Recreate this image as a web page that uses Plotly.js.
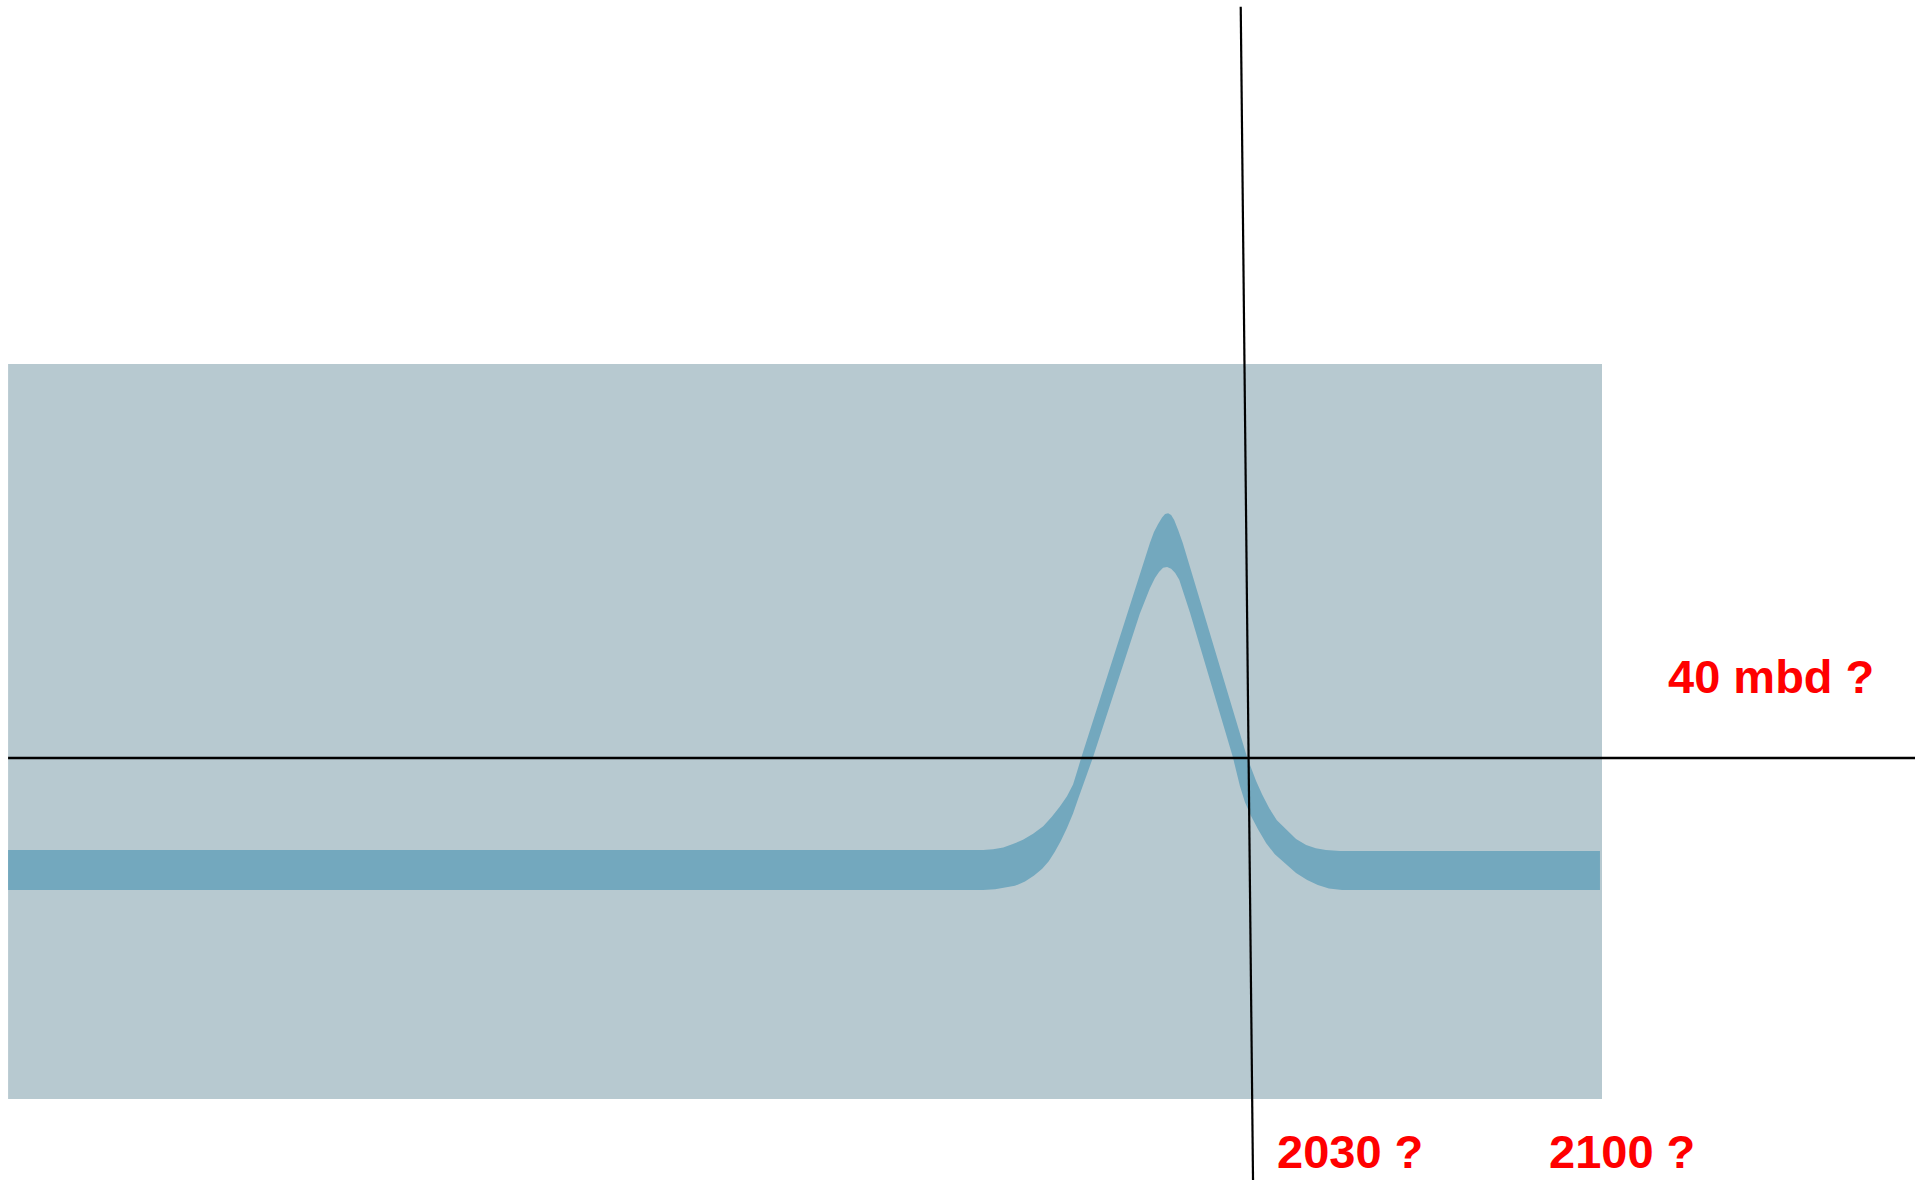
<!DOCTYPE html>
<html>
<head>
<meta charset="utf-8">
<script src="https://cdn.plot.ly/plotly-3.0.1.min.js"></script>
<style>html,body{margin:0;padding:0;background:#fff;}#chart{width:1915px;height:1180px;}</style>
</head>
<body>
<div id="chart"></div>
<script>
// Upper edge of the production band (year, million barrels per day)
const upperYears = [1784.8, 1977.6, 1979.6, 1981.6, 1983.5, 1985.5, 1987.5, 1989.5, 1991.2, 1992.8, 1994.2, 1995.4, 1996.2, 1997.0, 2010.6, 2011.4, 2012.2, 2013.0, 2013.6, 2014.2, 2014.8, 2015.4, 2016.2, 2017.1, 2029.8, 2030.6, 2031.6, 2032.8, 2034.2, 2035.7, 2037.5, 2039.5, 2041.5, 2043.4, 2045.4, 2048.2, 2099.6];
const upperMbd   = [29.2, 29.2, 29.3, 29.5, 29.9, 30.4, 31.1, 32.0, 33.1, 34.3, 35.5, 36.9, 38.4, 40.0, 65.2, 66.5, 67.4, 68.2, 68.6, 68.7, 68.5, 67.9, 66.7, 65.2, 40.1, 38.8, 37.3, 35.7, 34.1, 32.7, 31.6, 30.5, 29.8, 29.4, 29.2, 29.1, 29.1];
// Lower edge of the production band
const lowerYears = [1784.8, 1977.6, 1980.0, 1982.0, 1983.9, 1985.9, 1987.7, 1989.3, 1990.6, 1991.8, 1993.0, 1994.2, 1995.4, 1996.4, 1997.4, 1998.4, 1999.3, 2008.6, 2009.6, 2010.6, 2011.6, 2012.4, 2013.2, 2014.0, 2014.8, 2015.6, 2016.4, 2017.3, 2018.5, 2027.0, 2027.6, 2028.4, 2029.4, 2030.6, 2032.0, 2033.6, 2035.3, 2037.3, 2039.5, 2041.7, 2043.8, 2046.0, 2048.6, 2099.6];
const lowerMbd   = [24.5, 24.5, 24.6, 24.8, 25.0, 25.5, 26.2, 27.0, 27.9, 29.0, 30.3, 31.8, 33.5, 35.2, 36.8, 38.4, 40.0, 56.9, 58.5, 59.9, 61.1, 61.8, 62.3, 62.4, 62.2, 61.7, 60.9, 59.2, 57.1, 40.1, 38.6, 36.7, 34.8, 33.2, 31.6, 30.0, 28.7, 27.6, 26.5, 25.7, 25.1, 24.7, 24.5, 24.5];

// Reference levels and labels
const levelMbd = 40;
const levelLabel = "40 mbd ?";
const yearMarks = [2030, 2100];
const yearLabels = ["2030 ?", "2100 ?"];
const frameYears = [1784.8, 2100.0];
const frameMbd = [0, 86.2];
const xRange = [1783.2, 2161.9];
const yRange = [-9.5, 128.9];

const bandColor = "#73a8be";
const frameColor = "#b7c9d0";
const red = "#ff0000";
const labelFont = {family: "Liberation Sans, Arial, sans-serif", size: 47, color: red};

const traces = [
  {x: lowerYears, y: lowerMbd, type: "scatter", mode: "lines",
   line: {width: 0, shape: "linear", color: bandColor}, hoverinfo: "skip"},
  {x: upperYears, y: upperMbd, type: "scatter", mode: "lines", fill: "tonexty",
   fillcolor: bandColor,
   line: {width: 0, shape: "linear", color: bandColor}, hoverinfo: "skip"}
];

const layout = {
  width: 1915, height: 1180,
  margin: {l: 0, r: 0, t: 0, b: 0, pad: 0},
  paper_bgcolor: "#ffffff", plot_bgcolor: "#ffffff",
  showlegend: false,
  xaxis: {range: xRange, visible: false, fixedrange: true},
  yaxis: {range: yRange, visible: false, fixedrange: true},
  shapes: [
    {type: "rect", layer: "below", xref: "x", yref: "y",
     x0: frameYears[0], x1: frameYears[1], y0: frameMbd[0], y1: frameMbd[1],
     fillcolor: frameColor, line: {width: 0}},
    {type: "line", layer: "above", xref: "x", yref: "y",
     x0: frameYears[0], x1: xRange[1], y0: levelMbd, y1: levelMbd,
     line: {color: "#000000", width: 2.6}},
    {type: "line", layer: "above", xref: "x", yref: "y",
     x0: yearMarks[0] - 1.44, y0: 128.1, x1: yearMarks[0] + 0.99, y1: yRange[0],
     line: {color: "#000000", width: 2.2}}
  ],
  annotations: [
    {x: 2133.4, y: 49.6, xref: "x", yref: "y", text: "<b>" + levelLabel + "</b>",
     showarrow: false, font: labelFont, xanchor: "center", yanchor: "middle"},
    {x: 2050.2, y: yRange[0], xref: "x", yref: "y", text: "<b>" + yearLabels[0] + "</b>",
     showarrow: false, font: labelFont, xanchor: "center", yanchor: "bottom"},
    {x: 2104.0, y: yRange[0], xref: "x", yref: "y", text: "<b>" + yearLabels[1] + "</b>",
     showarrow: false, font: labelFont, xanchor: "center", yanchor: "bottom"}
  ]
};

Plotly.newPlot("chart", traces, layout, {staticPlot: true, displayModeBar: false});
</script>
</body>
</html>
